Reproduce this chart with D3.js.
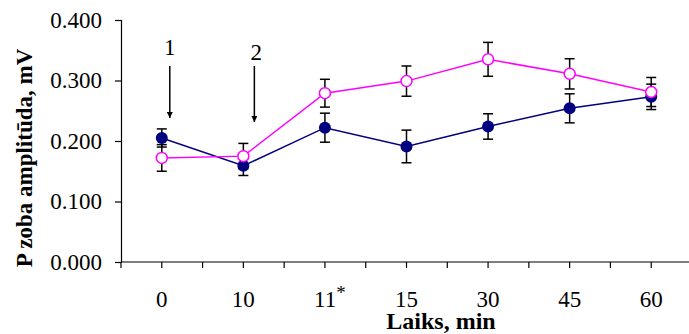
<!DOCTYPE html>
<html>
<head>
<meta charset="utf-8">
<script src="https://cdn.jsdelivr.net/npm/d3@7"></script>
<style>
  body { margin: 0; background: #fff; }
  svg { display: block; font-family: "Liberation Serif", "Times New Roman", serif; }
</style>
</head>
<body>
<div id="chart"></div>
<script>
// data
var categories = ["0", "10", "11*", "15", "30", "45", "60"];
var blueVals = [0.205, 0.159, 0.222, 0.191, 0.224, 0.254, 0.273];
var blueErr = [0.015, 0.016, 0.024, 0.027, 0.021, 0.024, 0.021];
var pinkVals = [0.172, 0.175, 0.279, 0.299, 0.335, 0.311, 0.281];
var pinkErr = [0.022, 0.021, 0.023, 0.025, 0.028, 0.025, 0.024];
var yTicks = [0, 0.1, 0.2, 0.3, 0.4];
var arrows = [{label: "1", cat: "0"}, {label: "2", cat: "10"}];

var W = 689, H = 334;
var plotL = 121, plotR = 692, plotT = 20, plotB = 262;
var fs = 23;

var svg = d3.select("#chart").append("svg")
    .attr("width", W).attr("height", H);

var x = d3.scaleBand().domain(categories).range([plotL, plotR]).padding(0);
var y = d3.scaleLinear().domain([0, 0.4]).range([plotB, plotT]);
var cx = function (c) { return x(c) + x.bandwidth() / 2; };

// y axis
var yAxis = d3.axisLeft(y).tickValues(yTicks).tickSize(6).tickPadding(13)
    .tickFormat(d3.format(".3f"));
var gy = svg.append("g").attr("transform", "translate(" + plotL + ",0)").call(yAxis);
gy.select(".domain").attr("stroke", "#000").attr("stroke-width", 1.2);
gy.selectAll(".tick line").attr("stroke", "#000").attr("stroke-width", 1.2);
gy.selectAll(".tick text").attr("font-size", fs).attr("fill", "#000")
    .attr("font-family", "Liberation Serif, Times New Roman, serif");

// x axis line + ticks at band edges and centres
svg.append("line").attr("x1", plotL).attr("x2", plotR).attr("y1", plotB).attr("y2", plotB)
    .attr("stroke", "#000").attr("stroke-width", 1.2);
var tickPos = [];
categories.forEach(function (c) { tickPos.push(x(c)); tickPos.push(cx(c)); });
tickPos.push(plotR);
svg.selectAll(".xtick").data(tickPos).enter().append("line")
    .attr("x1", function (d) { return d; }).attr("x2", function (d) { return d; })
    .attr("y1", plotB).attr("y2", plotB + 6)
    .attr("stroke", "#000").attr("stroke-width", 1.2);

var xl = svg.selectAll(".xlab").data(categories).enter().append("text")
    .attr("x", function (d) { return cx(d); })
    .attr("y", 307)
    .attr("text-anchor", "middle").attr("font-size", fs);
xl.each(function (d) {
    var t = d3.select(this);
    if (d.indexOf("*") >= 0) {
        t.attr("dx", 5);
        t.append("tspan").text(d.replace("*", ""));
        t.append("tspan").attr("dy", -8).attr("font-size", 19).text("*");
    } else {
        t.text(d);
    }
});

// titles
svg.append("text").attr("x", 441).attr("y", 329).attr("text-anchor", "middle")
    .attr("font-size", 24).attr("font-weight", "bold").text("Laiks, min");
svg.append("text").attr("transform", "translate(32,158) rotate(-90)")
    .attr("text-anchor", "middle").attr("font-size", fs).attr("font-weight", "bold")
    .text("P zoba amplitūda, mV");

// arrows
var defs = svg.append("defs");
defs.append("marker").attr("id", "arrowhead").attr("viewBox", "0 0 10 10")
    .attr("refX", 10).attr("refY", 5).attr("markerWidth", 10).attr("markerHeight", 6)
    .attr("markerUnits", "userSpaceOnUse").attr("orient", "auto")
    .append("path").attr("d", "M0,0 L10,5 L0,10 z").attr("fill", "#000");
var ag = svg.selectAll(".arrow").data(arrows).enter().append("g");
ag.append("line")
    .attr("x1", function (d, i) { return cx(d.cat) + (i === 0 ? 8 : 11); })
    .attr("x2", function (d, i) { return cx(d.cat) + (i === 0 ? 8 : 11); })
    .attr("y1", 66).attr("y2", function (d, i) { return i === 0 ? 118 : 122; })
    .attr("stroke", "#000").attr("stroke-width", 1.5).attr("marker-end", "url(#arrowhead)");
ag.append("text")
    .attr("x", function (d, i) { return cx(d.cat) + (i === 0 ? 8 : 13); })
    .attr("y", function (d, i) { return i === 0 ? 55 : 60; })
    .attr("text-anchor", "middle").attr("font-size", fs).text(function (d) { return d.label; });

// series
function drawSeries(vals, errs, color) {
    var pts = categories.map(function (c, i) { return {c: c, v: vals[i], e: errs[i]}; });
    var line = d3.line().x(function (d) { return cx(d.c); }).y(function (d) { return y(d.v); });
    svg.append("path").datum(pts).attr("d", line).attr("fill", "none")
        .attr("stroke", color).attr("stroke-width", 1.5);
    var eb = svg.append("g");
    pts.forEach(function (d) {
        var px = cx(d.c);
        eb.append("line").attr("x1", px).attr("x2", px)
            .attr("y1", y(d.v + d.e)).attr("y2", y(d.v - d.e))
            .attr("stroke", "#000").attr("stroke-width", 1.5);
        [d.v + d.e, d.v - d.e].forEach(function (v) {
            eb.append("line").attr("x1", px - 5).attr("x2", px + 5)
                .attr("y1", y(v)).attr("y2", y(v))
                .attr("stroke", "#000").attr("stroke-width", 1.5);
        });
    });
    return pts;
}
var bluePts = drawSeries(blueVals, blueErr, "#000080");
var pinkPts = drawSeries(pinkVals, pinkErr, "#ff00ff");

svg.selectAll(".bdot").data(bluePts).enter().append("circle")
    .attr("cx", function (d) { return cx(d.c); }).attr("cy", function (d) { return y(d.v); })
    .attr("r", 6).attr("fill", "#000080");
svg.selectAll(".pdot").data(pinkPts).enter().append("circle")
    .attr("cx", function (d) { return cx(d.c); }).attr("cy", function (d) { return y(d.v); })
    .attr("r", 5.5).attr("fill", "#fff").attr("stroke", "#ff00ff").attr("stroke-width", 1.5);
</script>
</body>
</html>
